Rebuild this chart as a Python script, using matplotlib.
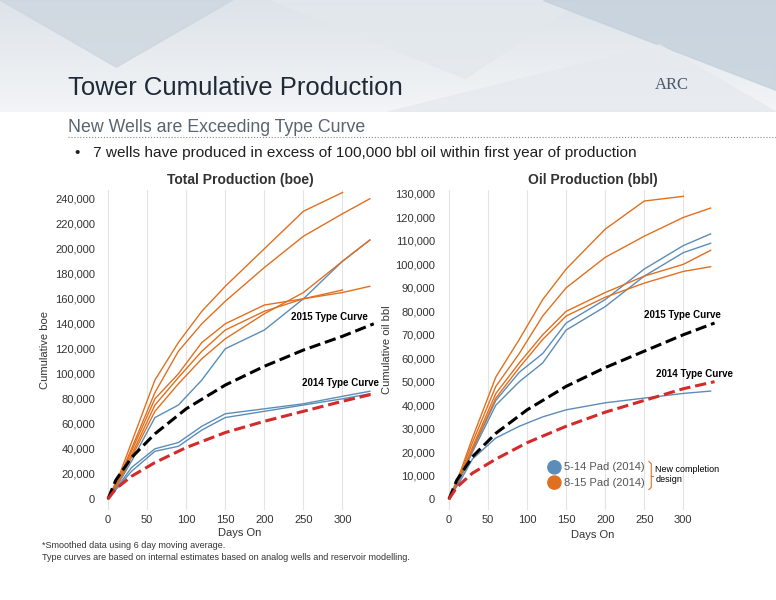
import matplotlib
matplotlib.use("Agg")
import matplotlib.pyplot as plt
import numpy as np
from matplotlib.patches import Polygon

plt.rcParams['font.family'] = ['Liberation Sans', 'DejaVu Sans']

BLUE = "#5b8db8"
ORANGE = "#e0701f"

# ---- data: Total production (boe) ----
days = [0, 15, 30, 60, 90, 120, 150, 200, 250, 300, 335]
boe_orange = [
    [0, 20000, 45000, 95000, 125000, 150000, 170000, 200000, 230000, 245000, None],
    [0, 18000, 40000, 85000, 118000, 140000, 158000, 185000, 210000, 228000, 240000],
    [0, 17000, 38000, 80000, 100000, 125000, 140000, 155000, 160000, 167000, None],
    [0, 16000, 35000, 75000, 97000, 118000, 135000, 150000, 160000, 165000, 170000],
    [0, 15000, 33000, 70000, 92000, 112000, 128000, 148000, 165000, 190000, 207000],
]
boe_blue = [
    [0, 14000, 30000, 65000, 75000, 95000, 120000, 135000, 160000, 190000, 207000],
    [0, 12000, 25000, 40000, 45000, 58000, 68000, 72000, 76000, 82000, 86000],
    [0, 11000, 22000, 38000, 42000, 55000, 65000, 70000, 75000, 80000, 84000],
]
tc_days = [0, 10, 30, 60, 100, 150, 200, 250, 300, 340]
tc2015_boe = [0, 15000, 33000, 52000, 72000, 91000, 106000, 119000, 130000, 140000]
tc2014_boe = [0, 8000, 18000, 29000, 41000, 53000, 62000, 70000, 78000, 84000]

# ---- data: Oil production (bbl) ----
oil_orange = [
    [0, 12000, 26000, 52000, 68000, 85000, 98000, 115000, 127000, 129000, None],
    [0, 11000, 24000, 48000, 62000, 78000, 90000, 103000, 112000, 120000, 124000],
    [0, 10000, 22000, 45000, 58000, 70000, 80000, 88000, 95000, 100000, 106000],
    [0, 10000, 21000, 43000, 56000, 68000, 78000, 86000, 92000, 97000, 99000],
]
oil_blue = [
    [0, 10000, 21000, 42000, 54000, 62000, 75000, 85000, 98000, 108000, 113000],
    [0, 9000, 20000, 40000, 50000, 58000, 72000, 82000, 95000, 105000, 109000],
    [0, 8000, 17000, 26000, 31000, 35000, 38000, 41000, 43000, 45000, 46000],
]
tc2015_oil = [0, 8000, 18000, 28000, 38000, 48000, 56000, 63000, 70000, 75000]
tc2014_oil = [0, 5000, 11000, 17000, 24000, 31000, 37000, 42000, 47000, 50000]

fig = plt.figure(figsize=(7.76, 6.0), dpi=100)
fig.patch.set_facecolor("white")

hdr = fig.add_axes([0, 1 - 112/600, 1, 112/600])
hdr.axis("off")
grad = np.linspace(0, 1, 256).reshape(-1, 1)
hdr.imshow(grad, extent=[0, 1, 0, 1], aspect="auto",
           cmap=matplotlib.colors.LinearSegmentedColormap.from_list("h", ["#dde3e9", "#f3f5f7"]))
for pts, c in [([(0, 1), (0.3, 1), (0.15, 0.4)], "#cdd6df"), ([(0.35, 1), (0.6, 0.3), (0.75, 1)], "#e3e8ed"),
               ([(0.7, 1), (1, 1), (1, 0.2)], "#c4d0db"), ([(0.5, 0), (0.85, 0.6), (1, 0)], "#e6eaef")]:
    hdr.add_patch(Polygon(pts, closed=True, color=c, alpha=0.8))
hdr.set_xlim(0, 1); hdr.set_ylim(0, 1)

fig.text(68/776, 1 - 88/600, "Tower Cumulative Production", fontsize=18.5, color="#1f2a36", va="center")
fig.text(655/776, 1 - 85/600, "ARC", fontsize=12, color="#4a5a6a", va="center", family="Liberation Serif")
fig.text(68/776, 1 - 128/600, "New Wells are Exceeding Type Curve", fontsize=12.8, color="#5a6470", va="center")
fig.add_artist(plt.Line2D([68/776, 1], [1 - 137/600] * 2, color="#888888", lw=0.8, ls=":"))
fig.text(75/776, 1 - 153/600, "•   7 wells have produced in excess of 100,000 bbl oil within first year of production",
         fontsize=11.1, color="#1f1f1f", va="center")

def setup(ax, ylim, yticks, title, xlim):
    ax.set_xlim(*xlim); ax.set_ylim(*ylim)
    for s in ax.spines.values():
        s.set_visible(False)
    ax.set_xticks([0, 50, 100, 150, 200, 250, 300])
    ax.set_yticks(yticks)
    ax.set_yticklabels([f"{v:,}" for v in yticks])
    ax.tick_params(length=0, labelsize=8, colors="#333333")
    ax.grid(axis="x", color="#e3e3e3", lw=0.8)
    ax.set_title(title, fontsize=10, fontweight="bold", color="#333333", pad=4)

def series(ax, data, color):
    for s in data:
        x = [d for d, v in zip(days, s) if v is not None]
        y = [v for v in s if v is not None]
        ax.plot(x, y, color=color, lw=1.0)

ax1 = fig.add_axes([100/776, 90/600, 280/776, 320/600])
setup(ax1, (-8950, 247000), list(range(0, 240001, 20000)), "Total Production (boe)", (-10.3, 348))
series(ax1, boe_blue, BLUE); series(ax1, boe_orange, ORANGE)
ax1.plot(tc_days, tc2015_boe, "k--", lw=2.2)
ax1.plot(tc_days, tc2014_boe, "--", color="#d42a2a", lw=2.2)
ax1.text(234, 143000, "2015 Type Curve", fontsize=7, fontweight="bold")
ax1.text(248, 90000, "2014 Type Curve", fontsize=7, fontweight="bold")
ax1.set_xlabel("Days On", fontsize=8, color="#333333", labelpad=2)
ax1.set_ylabel("Cumulative boe", fontsize=8, color="#333333", labelpad=4)

ax2 = fig.add_axes([440/776, 90/600, 305/776, 320/600])
setup(ax2, (-4690, 131700), list(range(0, 130001, 10000)), "Oil Production (bbl)", (-11.5, 379))
series(ax2, oil_blue, BLUE); series(ax2, oil_orange, ORANGE)
ax2.plot(tc_days, tc2015_oil, "k--", lw=2.2)
ax2.plot(tc_days, tc2014_oil, "--", color="#d42a2a", lw=2.2)
ax2.text(250, 77000, "2015 Type Curve", fontsize=7, fontweight="bold")
ax2.text(265, 52000, "2014 Type Curve", fontsize=7, fontweight="bold")
ax2.set_xlabel("Days On", fontsize=8, color="#333333", labelpad=4)
ax2.set_ylabel("Cumulative oil bbl", fontsize=8, color="#333333", labelpad=2)
ax2.scatter([135, 135], [13500, 7000], s=90, c=[BLUE, ORANGE], zorder=5)
ax2.text(147, 13500, "5-14 Pad (2014)", fontsize=8, color="#555555", va="center")
ax2.text(147, 7000, "8-15 Pad (2014)", fontsize=8, color="#555555", va="center")
ax2.plot([256, 259, 259, 256], [16000, 15000, 5000, 4000], color=ORANGE, lw=0.8)
ax2.plot([259, 261], [10000, 10000], color=ORANGE, lw=0.8)
ax2.text(264, 10500, "New completion\ndesign", fontsize=6.5, va="center")

fig.text(42/776, 1 - 545/600, "*Smoothed data using 6 day moving average.", fontsize=6.5, color="#333333", va="center")
fig.text(42/776, 1 - 557/600, "Type curves are based on internal estimates based on analog wells and reservoir modelling.",
         fontsize=6.5, color="#333333", va="center")

fig.savefig("out.png", dpi=100)
